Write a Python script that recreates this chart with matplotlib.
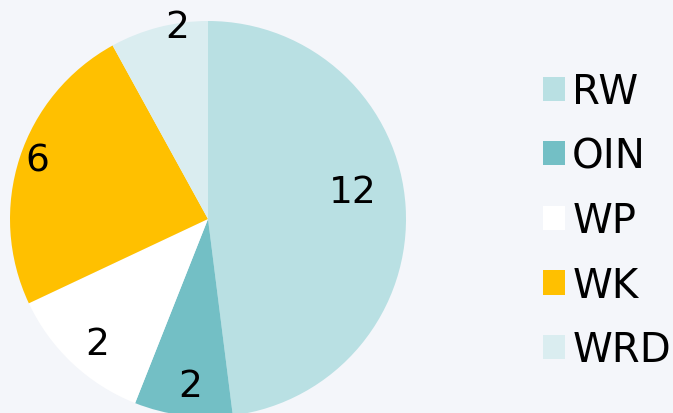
import matplotlib.pyplot as plt
import numpy as np

# slice sizes as measured from the wedge angles, labels as printed on the chart
categories = ['RW', 'OIN', 'WP', 'WK', 'WRD']
sizes = [12, 2, 3, 6, 2]
shown = ['12', '2', '2', '6', '2']
colors = ['#b9e0e3', '#73bfc5', '#ffffff', '#ffc000', '#daedf0']

# where each value label sits: fraction of radius, angle shift in degrees
label_r = [0.745, 0.847, 0.843, 0.914, 0.98]
label_shift = [7, 1, 1.6, -1, -5.2]

plt.rcParams['font.family'] = ['DejaVu Sans']

W, H = 673, 414
fig = plt.figure(figsize=(W / 100, H / 100), dpi=100, facecolor='#f4f6fa')

cx, cy, r = 208, 220, 198
ax = fig.add_axes([(cx - r) / W, (H - cy - r) / H, 2 * r / W, 2 * r / H])
wedges, _ = ax.pie(sizes, colors=colors, startangle=90, counterclock=False,
                   wedgeprops=dict(linewidth=0))
ax.set_xlim(-1, 1)
ax.set_ylim(-1, 1)
ax.set_aspect('equal')
ax.axis('off')

for w, txt, rr, sh in zip(wedges, shown, label_r, label_shift):
    mid = np.deg2rad((w.theta1 + w.theta2) / 2 + sh)
    ax.text(rr * np.cos(mid), rr * np.sin(mid), txt, fontsize=27,
            ha='center', va='center', color='black')

fig.legend(wedges, categories, loc='upper left',
           bbox_to_anchor=(543 / W, 1 - 73 / H), frameon=False,
           fontsize=29, handlelength=0.545, handleheight=0.545,
           handletextpad=0.18, labelspacing=0.61, borderpad=0,
           borderaxespad=0)

fig.savefig('out.png', dpi=100, facecolor=fig.get_facecolor())
